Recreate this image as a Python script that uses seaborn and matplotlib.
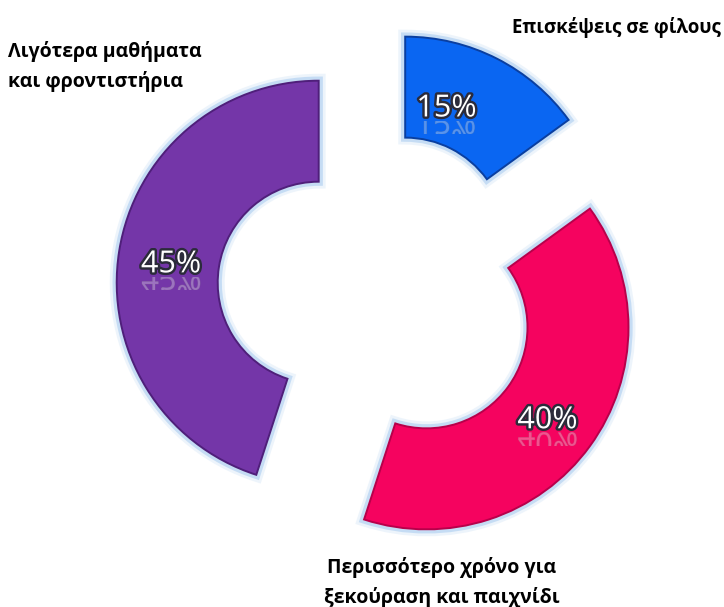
import matplotlib
matplotlib.use("Agg")
import numpy as np
import matplotlib.pyplot as plt
import matplotlib.patheffects as pe
import matplotlib.transforms as mtransforms
from matplotlib.textpath import TextPath
from matplotlib.patches import PathPatch, Rectangle
from matplotlib.font_manager import FontProperties
import seaborn as sns

# data
categories = ["Επισκέψεις σε φίλους",
              "Περισσότερο χρόνο για\nξεκούραση και παιχνίδι",
              "Λιγότερα μαθήματα\nκαι φροντιστήρια"]
shares = [15, 40, 45]
colors = ["#0a66f2", "#f5035f", "#7436a8"]
edges = ["#0a3fa0", "#b8004a", "#4f1f7a"]

sns.set_theme(style="white")
plt.rcParams["font.family"] = ["Open Sans", "DejaVu Sans"]

fig = plt.figure(figsize=(7.24, 6.07), dpi=100)
ax = fig.add_axes([0, 0, 1, 1])
ax.set_axis_off()

wedges, texts, autotexts = ax.pie(
    shares, colors=colors, startangle=90, counterclock=False,
    explode=[0.297] * 3, radius=1.0, autopct="%d%%", pctdistance=0.74,
    wedgeprops=dict(width=0.5, linewidth=1.4),
    textprops=dict(color="white", fontsize=22))

for w, ec in zip(wedges, edges):
    w.set_edgecolor(ec)
    w.set_path_effects([
        pe.Stroke(linewidth=10, foreground="#e2eef9", alpha=0.6),
        pe.Stroke(linewidth=6, foreground="#bcd7f3", alpha=0.8),
        pe.Normal()])

ax.set_aspect("equal")
ax.set_xlim(-1.871, 1.713)
ax.set_ylim(-1.559, 1.446)

# the small blue slice has its label a bit further round towards the top
w0 = wedges[0]
cx, cy = w0.center
ang = np.deg2rad(73)
autotexts[0].set_position((cx + 0.70 * np.cos(ang), cy + 0.70 * np.sin(ang)))
for t in autotexts:
    x, y = t.get_position()
    t.set_position((x, y - 0.025))

# percent labels: outlined white text with a faded reflection underneath
fp = FontProperties(family="Open Sans", size=22)
for t in autotexts:
    t.set_path_effects([pe.withStroke(linewidth=3.5, foreground="#2b2b3a")])
    x, y = t.get_position()
    tp = TextPath((0, 0), t.get_text(), size=22, prop=fp)
    bb = tp.get_extents()
    px, py = ax.transData.transform((x, y))
    k = fig.dpi / 72
    top = py - bb.height * k / 2 - 1
    tr = (mtransforms.Affine2D().translate(-bb.width / 2 - bb.x0, 0)
          .scale(1, -1).scale(k).translate(px, top))
    patch = PathPatch(tp, transform=tr, facecolor="white",
                      edgecolor="#999999", lw=0.6, alpha=0.3)
    ax.add_patch(patch)
    clip = Rectangle((px - 60, top - bb.height * k * 0.6), 120,
                     bb.height * k * 0.6, transform=None)
    patch.set_clip_path(clip)

# category labels
ax.text(0.852, 0.955, categories[0], transform=ax.transAxes, ha="center",
        va="center", fontsize=13.5, fontweight="bold", color="black")
ax.text(0.011, 0.89, categories[2], transform=ax.transAxes, ha="left",
        va="center", fontsize=14, fontweight="bold", color="black",
        linespacing=1.55)
ax.text(0.61, 0.04, categories[1], transform=ax.transAxes, ha="center",
        va="center", fontsize=14, fontweight="bold", color="black",
        linespacing=1.55)

fig.savefig("out.png", dpi=100)
